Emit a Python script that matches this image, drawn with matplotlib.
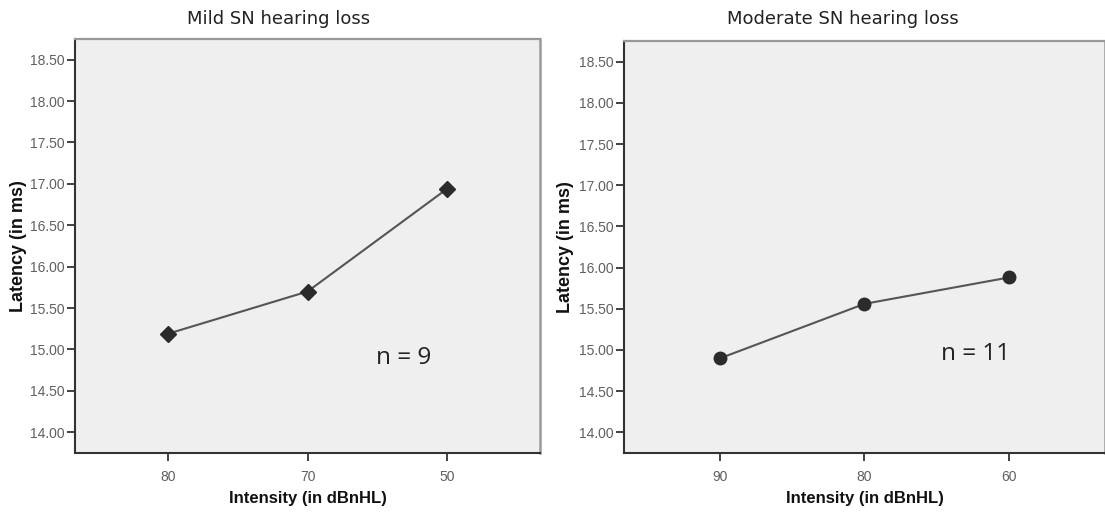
import matplotlib
matplotlib.use("Agg")
import matplotlib.pyplot as plt
import numpy as np

# ---------------- data ----------------
mild_labels = ["80", "70", "50"]
mild_latency = [15.19, 15.70, 16.94]
mild_n = "n = 9"

moderate_labels = ["90", "80", "60"]
moderate_latency = [14.90, 15.56, 15.88]
moderate_n = "n = 11"

yticks = [14.00, 14.50, 15.00, 15.50, 16.00, 16.50, 17.00, 17.50, 18.00, 18.50]

# ---------------- figure ----------------
fig = plt.figure(figsize=(11.05, 5.13), dpi=100)
fig.patch.set_facecolor("white")

ax1 = fig.add_axes([0.0679, 0.117, 0.4208, 0.807])
ax2 = fig.add_axes([0.5647, 0.117, 0.4353, 0.803])


def style_panel(ax, labels, values, marker, msize, title, ntext, npos, title_x):
    x = np.arange(len(labels))
    ax.set_facecolor("#efefef")
    ax.plot(x, values, color="#555555", lw=1.5, marker=marker, markersize=msize,
            markerfacecolor="#2b2b2b", markeredgecolor="#2b2b2b", zorder=3)
    ax.set_xlim(-2 / 3, len(labels) - 1 + 2 / 3)
    ax.set_ylim(13.75, 18.75)
    ax.set_xticks(x)
    ax.set_xticklabels(labels)
    ax.set_yticks(yticks)
    ax.set_yticklabels(["%.2f" % v for v in yticks])
    ax.tick_params(direction="out", length=6, width=1.3, color="#333333",
                   labelcolor="#606060", labelsize=10)
    ax.tick_params(axis="x", pad=6)
    ax.tick_params(axis="y", pad=1.5)
    for t in ax.get_xticklabels() + ax.get_yticklabels():
        t.set_family("Liberation Sans")
    ax.spines["left"].set_color("#333333")
    ax.spines["bottom"].set_color("#333333")
    ax.spines["left"].set_linewidth(1.5)
    ax.spines["bottom"].set_linewidth(1.5)
    ax.spines["top"].set_color("#999999")
    ax.spines["right"].set_color("#999999")
    ax.spines["top"].set_linewidth(1.6)
    ax.spines["right"].set_linewidth(1.8)

    ax.set_xlabel("Intensity (in dBnHL)", fontsize=12, fontweight="bold",
                  family="Liberation Sans", color="#111111", labelpad=5)
    ax.set_ylabel("Latency (in ms)", fontsize=13, fontweight="bold",
                  family="Liberation Sans", color="#111111")
    ax.yaxis.set_label_coords(-0.104, 0.5)

    ax.text(npos[0], npos[1], ntext, fontsize=17.5, family="Open Sans",
            color="#222222", ha="center", va="center")
    fig.text(title_x, 0.962, title, fontsize=13, family="DejaVu Sans",
             color="#222222", ha="center", va="center")


style_panel(ax1, mild_labels, mild_latency, "D", 8.5, "Mild SN hearing loss",
            mild_n, (1.69, 14.9), 279 / 1105)
style_panel(ax2, moderate_labels, moderate_latency, "o", 9, "Moderate SN hearing loss",
            moderate_n, (1.77, 14.95), 843 / 1105)

fig.savefig("out.png", dpi=100, facecolor="white")
